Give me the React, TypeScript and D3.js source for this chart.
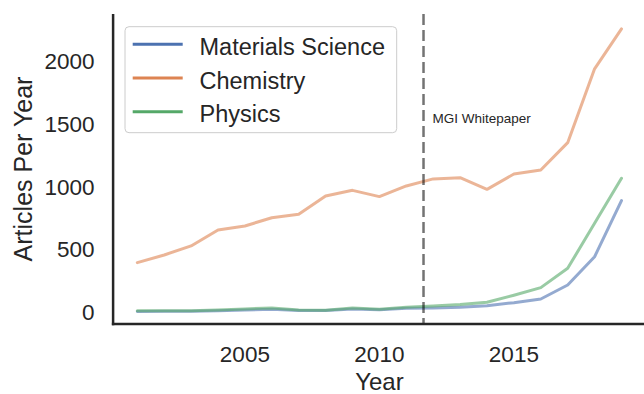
import React from "react";
import * as d3 from "d3";

const years = [2001, 2002, 2003, 2004, 2005, 2006, 2007, 2008, 2009, 2010, 2011, 2012, 2013, 2014, 2015, 2016, 2017, 2018, 2019];
const materialsScience = [5, 6, 7, 10, 16, 22, 13, 12, 25, 18, 30, 32, 38, 51, 75, 104, 216, 441, 888];
const chemistry = [394, 455, 527, 654, 686, 752, 779, 925, 970, 920, 1005, 1061, 1071, 978, 1100, 1132, 1350, 1938, 2256];
const physics = [10, 10, 11, 17, 25, 33, 16, 15, 33, 22, 38, 48, 60, 78, 134, 195, 349, 707, 1066];
const seriesNames = ["Materials Science", "Chemistry", "Physics"];
const seriesColors = ["#4C72B0", "#DD8452", "#55A868"];
const xTicks = [2005, 2010, 2015];
const yTicks = [0, 500, 1000, 1500, 2000];
const mgiYear = 2011.64;
const mgiLabel = "MGI Whitepaper";

const W = 644;
const H = 394;
const FONT = "'Liberation Sans', Arial, Helvetica, sans-serif";
const TEXT = "#262626";

export default function App() {
  const x = d3.scaleLinear().domain([2000.1, 2019.9]).range([113.1, 645.7]);
  const y = d3.scaleLinear().domain([-95, 2375]).range([324, 14]);
  const series = [materialsScience, chemistry, physics];
  const line = d3
    .line<number>()
    .x((_, i) => x(years[i]))
    .y((d) => y(d));

  const left = x.range()[0];
  const bottom = y.range()[0];
  const top = y.range()[1];
  const right = x.range()[1];

  return (
    <svg
      width={W}
      height={H}
      style={{ position: "absolute", left: 0, top: 0, background: "#fff" }}
      fontFamily={FONT}
    >
      <rect x={0} y={0} width={W} height={H} fill="#fff" />
      {/* data lines */}
      {series.map((s, i) => (
        <path
          key={seriesNames[i]}
          d={line(s) || ""}
          fill="none"
          stroke={seriesColors[i]}
          strokeWidth={3}
          strokeOpacity={0.6}
          strokeLinejoin="round"
          strokeLinecap="round"
        />
      ))}
      {/* MGI vline */}
      <line
        x1={x(mgiYear)}
        x2={x(mgiYear)}
        y1={top}
        y2={bottom}
        stroke="#000"
        strokeOpacity={0.55}
        strokeWidth={2.5}
        strokeDasharray="11,5"
      />
      <text x={x(mgiYear) + 9} y={122.7} fontSize={13.5} fill={TEXT}>
        {mgiLabel}
      </text>
      {/* spines */}
      <line x1={left} x2={left} y1={top} y2={bottom + 1.25} stroke={TEXT} strokeWidth={2.5} />
      <line x1={left - 1.25} x2={right} y1={bottom} y2={bottom} stroke={TEXT} strokeWidth={2.5} />
      {/* x ticks */}
      {xTicks.map((t) => (
        <text key={t} x={x(t)} y={362.3} textAnchor="middle" fontSize={22.5} fill={TEXT}>
          {t}
        </text>
      ))}
      {/* y ticks */}
      {yTicks.map((t) => (
        <text key={t} x={94.5} y={y(t) + 8} textAnchor="end" fontSize={22.5} fill={TEXT}>
          {t}
        </text>
      ))}
      {/* axis labels */}
      <text x={(left + right) / 2} y={389.5} textAnchor="middle" fontSize={24} fill={TEXT}>
        Year
      </text>
      <text
        transform={`translate(32,${(top + bottom) / 2}) rotate(-90)`}
        textAnchor="middle"
        fontSize={25}
        fill={TEXT}
      >
        Articles Per Year
      </text>
      {/* legend */}
      <rect x={125} y={26.7} width={271.7} height={106} rx={4} ry={4} fill="#fff" fillOpacity={0.8} stroke="#cccccc" strokeWidth={1} />
      {seriesNames.map((name, i) => {
        const cy = 44.3 + i * 33.7;
        return (
          <g key={name}>
            <line x1={132.7} x2={182.7} y1={cy} y2={cy} stroke={seriesColors[i]} strokeWidth={3} />
            <text x={199.5} y={cy + 10.7} fontSize={23.5} fill={TEXT}>
              {name}
            </text>
          </g>
        );
      })}
    </svg>
  );
}
